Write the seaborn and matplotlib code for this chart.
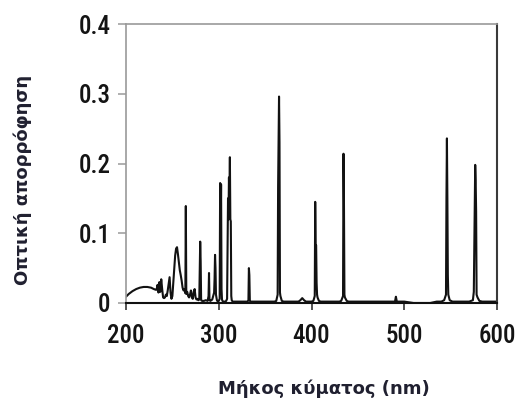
import matplotlib
matplotlib.use("Agg")
import matplotlib.pyplot as plt
from matplotlib import font_manager as fm
from matplotlib.transforms import ScaledTranslation
import seaborn as sns
import pandas as pd

# ---- data ----
wavelength = [
    200, 203, 207, 211, 215, 219, 223, 227, 230, 232,
    233, 234, 235, 236, 237, 238, 239, 240, 241, 242, 243, 244, 245, 246, 247, 248, 249,
    250, 251, 252, 253, 254, 255, 256, 257, 258, 259, 260, 261, 262, 263, 264, 264.5, 265,
    266, 267, 268, 269, 270, 271, 272, 273, 274, 275, 276, 277, 278, 279, 279.5, 280, 280.5,
    281, 282, 284, 286, 288, 289, 289.5, 290, 291, 293, 294, 295, 295.5, 296, 296.5, 297,
    298, 299, 300, 301, 301.5, 302, 302.5, 303, 303.5, 304, 305, 307, 308, 309, 310, 310.5,
    311, 311.5, 312, 312.5, 313, 313.5, 314, 314.5, 315, 316, 318, 320, 325, 331, 332,
    332.5, 333, 333.5, 334, 336, 340, 350, 360, 362, 363.5, 364, 364.5, 365, 365.5, 366,
    366.5, 368, 370, 380, 386, 388, 390, 392, 394, 400, 402, 403.5, 404, 404.5, 405, 405.5,
    406, 406.5, 408, 410, 420, 430, 432, 434, 434.5, 435, 435.5, 436, 438, 440, 460, 480,
    490, 491, 492, 500, 505, 510, 520, 528, 535, 540, 543, 545, 545.5, 546, 546.5, 547,
    547.5, 549, 552, 560, 570, 574, 575, 576, 576.5, 577, 577.5, 578, 579, 581, 584, 590, 600,
]
absorbance = [
    0.009, 0.013, 0.017, 0.020, 0.022, 0.023, 0.023, 0.022, 0.020, 0.019,
    0.019, 0.026, 0.015, 0.030, 0.016, 0.034, 0.020, 0.008, 0.007, 0.008, 0.012, 0.010, 0.018, 0.028, 0.037, 0.015, 0.006,
    0.010, 0.030, 0.050, 0.068, 0.078, 0.080, 0.070, 0.058, 0.047, 0.040, 0.032, 0.022, 0.018, 0.020, 0.014, 0.139, 0.013,
    0.016, 0.010, 0.008, 0.012, 0.018, 0.008, 0.006, 0.016, 0.020, 0.008, 0.005, 0.006, 0.004, 0.005, 0.050, 0.088, 0.060,
    0.004, 0.003, 0.003, 0.004, 0.003, 0.010, 0.043, 0.004, 0.003, 0.005, 0.010, 0.015, 0.035, 0.069, 0.050, 0.012,
    0.004, 0.002, 0.003, 0.006, 0.172, 0.080, 0.170, 0.020, 0.005, 0.003, 0.002, 0.002, 0.003, 0.006, 0.150, 0.120,
    0.180, 0.150, 0.209, 0.120, 0.117, 0.010, 0.004, 0.003, 0.002, 0.002, 0.002, 0.002, 0.002, 0.002, 0.004,
    0.050, 0.040, 0.004, 0.002, 0.002, 0.002, 0.002, 0.002, 0.003, 0.012, 0.167, 0.230, 0.296, 0.230, 0.015,
    0.010, 0.003, 0.002, 0.002, 0.002, 0.004, 0.007, 0.004, 0.002, 0.002, 0.003, 0.010, 0.145, 0.083, 0.083, 0.029,
    0.012, 0.008, 0.003, 0.002, 0.002, 0.002, 0.003, 0.010, 0.214, 0.143, 0.012, 0.008, 0.003, 0.002, 0.002, 0.002,
    0.002, 0.009, 0.002, 0.002, 0.001, 0.000, 0.000, 0.000, 0.002, 0.002, 0.004, 0.012, 0.150, 0.236, 0.150, 0.040,
    0.012, 0.004, 0.002, 0.002, 0.002, 0.004, 0.016, 0.131, 0.198, 0.176, 0.131, 0.012, 0.008, 0.003, 0.002, 0.002, 0.002,
]
x_ticks = [200, 300, 400, 500, 600]
y_ticks = [0, 0.1, 0.2, 0.3, 0.4]
y_tick_labels = ["0", "0.1", "0.2", "0.3", "0.4"]
x_label = "Μήκος κύματος (nm)"
y_label = "Οπτική απορρόφηση"

df = pd.DataFrame({"wl": wavelength, "abs": absorbance})

sns.set_style("white")
plt.rcParams["font.family"] = ["DejaVu Sans"]

# pick a narrow font for the tick numbers if one is installed
entries = fm.fontManager.ttflist
names = {e.name for e in entries}
tick_family, tick_stretch, tick_size = "DejaVu Sans", "normal", 14.5
narrow_named = [("Liberation Sans Narrow", 20), ("Roboto Condensed", 18),
                ("DejaVu Sans Condensed", 17), ("Open Sans Condensed", 18),
                ("Noto Sans Condensed", 18)]
found = False
for n, sz in narrow_named:
    if n in names:
        tick_family, tick_size, found = n, sz, True
        break
if not found:
    for fam, sz in [("DejaVu Sans", 17), ("Roboto", 18), ("Noto Sans", 18), ("Open Sans", 18)]:
        cond = [e for e in entries if e.name == fam and "condensed" in str(e.stretch)
                and e.weight in ("normal", 400, "regular", "book")]
        if cond:
            tick_family, tick_stretch, tick_size = fam, cond[0].stretch, sz
            break

W, H = 519, 404
fig = plt.figure(figsize=(W / 100, H / 100), dpi=100)
ax = fig.add_axes([126 / W, 1 - 303 / H, (497 - 126) / W, (303 - 24) / H])

sns.lineplot(data=df, x="wl", y="abs", ax=ax, color="#121212", linewidth=1.5,
             estimator=None, sort=False)

ax.set_xlim(200, 600)
ax.set_ylim(0, 0.4)
ax.set_xticks(x_ticks)
ax.set_xticklabels([str(t) for t in x_ticks])
ax.set_yticks(y_ticks)
ax.set_yticklabels(y_tick_labels)

for lab in ax.get_xticklabels() + ax.get_yticklabels():
    lab.set_fontfamily([tick_family, "DejaVu Sans"])
    lab.set_fontstretch(tick_stretch)
    lab.set_fontsize(tick_size)
    lab.set_fontweight("medium")
    lab.set_color("#141414")

# y tick numbers sit a few pixels below their ticks in the reference
shift = ScaledTranslation(0, -5 / 100, fig.dpi_scale_trans)
for lab in ax.get_yticklabels():
    lab.set_transform(lab.get_transform() + shift)

ax.tick_params(axis="y", direction="out", length=6, width=1.1, color="#9a9a9a", pad=5, left=True)
ax.tick_params(axis="x", direction="out", length=5, width=1.3, color="#444444", pad=10, bottom=True)

for side in ["left", "top"]:
    ax.spines[side].set_color("#9a9a9a")
    ax.spines[side].set_linewidth(1.2)
ax.spines["right"].set_color("#3a3a3a")
ax.spines["right"].set_linewidth(1.5)
ax.spines["bottom"].set_color("#111111")
ax.spines["bottom"].set_linewidth(1.5)
for s in ax.spines.values():
    s.set_visible(True)

ax.set_xlabel(x_label, fontsize=13, fontweight="bold", color="#202030")
ax.set_ylabel(y_label, fontsize=13, fontweight="bold", color="#202030")
ax.xaxis.set_label_coords((324 - 126) / 371, -(379 - 303) / 279)
ax.yaxis.set_label_coords((32 - 126) / 371, (303 - 180) / 279)

fig.savefig("out.png", dpi=100)
